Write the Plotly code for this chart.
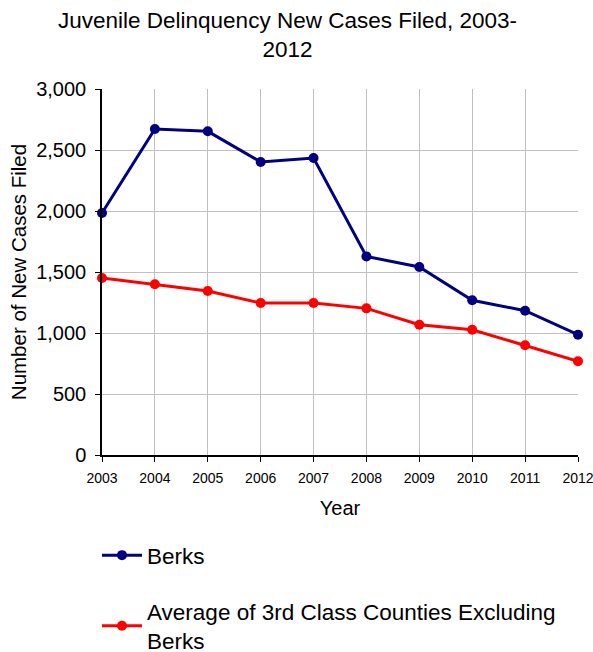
import plotly.graph_objects as go

years = [2003, 2004, 2005, 2006, 2007, 2008, 2009, 2010, 2011, 2012]
berks = [1984, 2672, 2653, 2402, 2434, 1628, 1541, 1268, 1183, 986]
avg_3rd = [1451, 1399, 1344, 1246, 1246, 1202, 1068, 1027, 899, 768]
y_ticks = [0, 500, 1000, 1500, 2000, 2500, 3000]

FONT = "Liberation Sans, Arial, sans-serif"
W, H = 593, 652
# plot area in window pixels
PX0, PX1, PY0, PY1 = 102, 578, 89, 455
L, R, T, B = PX0, W - PX1, PY0, H - PY1
PW, PH = PX1 - PX0, PY1 - PY0


def px_x(x):
    return (x - PX0) / PW


def px_y(y):
    return (PY1 - y) / PH


fig = go.Figure()
fig.add_trace(go.Scatter(
    x=years, y=berks, mode="lines+markers", name="Berks",
    line=dict(color="#000080", width=3), marker=dict(color="#000080", size=10),
    cliponaxis=False, legend="legend"))
fig.add_trace(go.Scatter(
    x=years, y=avg_3rd, mode="lines+markers",
    name="Average of 3rd Class Counties Excluding<br>Berks",
    line=dict(color="#FF0000", width=3), marker=dict(color="#FF0000", size=10),
    cliponaxis=False, legend="legend2"))

fig.add_annotation(
    text="Juvenile Delinquency New Cases Filed, 2003-<br>2012",
    xref="paper", yref="paper", x=px_x(287), y=px_y(35),
    xanchor="center", yanchor="middle", showarrow=False,
    font=dict(size=22.5, family=FONT, color="black"))

fig.update_layout(
    width=W, height=H,
    margin=dict(l=L, r=R, t=T, b=B, pad=0, autoexpand=False),
    paper_bgcolor="white", plot_bgcolor="white",
    font=dict(family=FONT, color="black"),
    xaxis=dict(range=[2003, 2012], tickmode="array", tickvals=years,
               ticktext=[str(y) for y in years], tickangle=0,
               ticklabeloverflow="allow", ticklabelstandoff=4,
               showgrid=True, gridcolor="#C0C0C0", gridwidth=1,
               showline=True, linecolor="black", linewidth=1.5,
               ticks="outside", ticklen=5, tickcolor="black",
               tickfont=dict(size=14, family=FONT),
               title=dict(text="Year", font=dict(size=20, family=FONT), standoff=16),
               zeroline=False),
    yaxis=dict(range=[0, 3000], tickmode="array", tickvals=y_ticks,
               tickformat=",",
               showgrid=True, gridcolor="#C0C0C0", gridwidth=1,
               showline=True, linecolor="black", linewidth=1.5,
               ticks="outside", ticklen=5, tickcolor="black",
               tickfont=dict(size=20, family=FONT), ticklabelstandoff=5,
               title=dict(text="Number of New Cases Filed", font=dict(size=20.5, family=FONT), standoff=4),
               zeroline=False),
    legend=dict(x=px_x(97), xanchor="left", y=px_y(534), yanchor="top",
                font=dict(size=22.5, family=FONT), itemwidth=40,
                bgcolor="rgba(0,0,0,0)"),
    legend2=dict(x=px_x(97), xanchor="left", y=px_y(590), yanchor="top",
                 font=dict(size=22.5, family=FONT), itemwidth=40,
                 bgcolor="rgba(0,0,0,0)"),
    showlegend=True,
)

fig.write_html(
    "out.html",
    config={"displayModeBar": False},
    post_script="document.body.style.margin='0';"
                "document.documentElement.style.overflow='hidden';"
                "document.body.style.overflow='hidden';",
)
